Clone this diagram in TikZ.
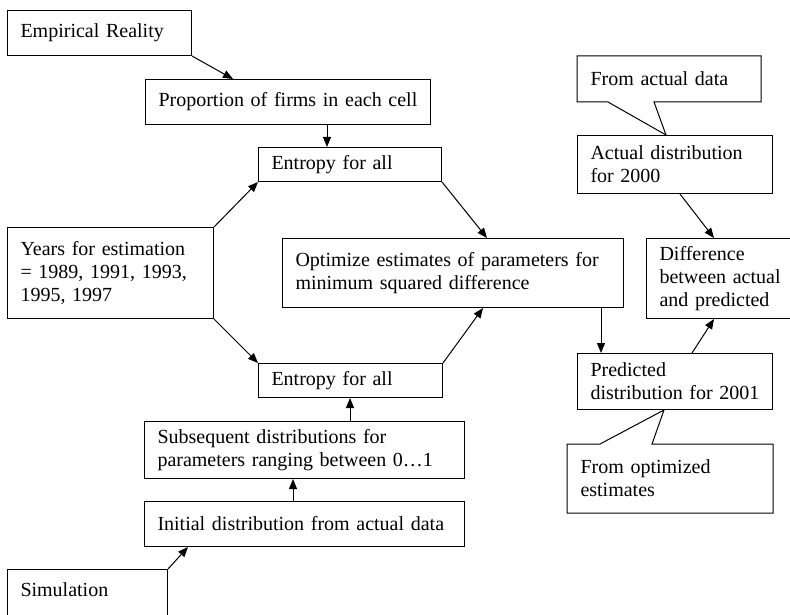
\documentclass[tikz,border=0pt]{standalone}
\usepackage{fontspec}
\setmainfont{Liberation Serif}
\usepackage{tikz}
\usetikzlibrary{positioning}
\usetikzlibrary{calc}
\usetikzlibrary{arrows.meta}

\tikzset{
	box/.style={draw, anchor=north west, align=left, inner xsep=6.5pt, inner ysep=0pt, font=\fontsize{10}{11.5}\selectfont},
	note/.style={box, draw=none},
}

\begin{document}
\begin{tikzpicture}[x=0.5pt, y=-0.5pt, line width=0.5pt, >={Triangle[length=5pt,width=4pt]}]
				\useasboundingbox (0, 0) rectangle (790, 614);
				\clip (0, 0) rectangle (790, 614);
				
				\node[box, text width=79pt, minimum height=22.5pt] (emp) at (7, 10) {Empirical Reality};
				\node[box, text width=129.5pt, minimum height=22.5pt] (prop) at (145, 79) {Proportion of firms in each cell};
				\node[box, text width=78.5pt, minimum height=17pt] (enttop) at (258, 147) {Entropy for all};
				\node[box, text width=90pt, minimum height=45.5pt] (years) at (7, 227) {Years for estimation\\= 1989, 1991, 1993,\\1995, 1997};
				\node[box, text width=157.5pt, minimum height=34.5pt] (opt) at (282, 238) {Optimize estimates of parameters for\\minimum squared difference};
				\node[box, text width=79pt, minimum height=17pt] (entbot) at (258, 363) {Entropy for all};
				\node[box, text width=147pt, minimum height=28.5pt] (subs) at (144, 421) {Subsequent distributions for\\parameters ranging between 0…1};
				\node[box, text width=147pt, minimum height=22.5pt] (init) at (144, 501) {Initial distribution from actual data};
				\node[box, text width=67pt, inner ysep=6.5pt, text height=7pt, text depth=30pt] (sim) at (7, 569) {Simulation};
				
				\node[note, text width=78.5pt, minimum height=22.5pt] (fad) at (577, 56) {From actual data};
				\node[box, text width=84.5pt, minimum height=29pt] (act) at (577, 135) {Actual distribution\\for 2000};
				\node[box, text width=67pt, minimum height=40pt] (diff) at (646, 238) {Difference\\between actual\\and predicted};
				\node[box, text width=84.5pt, minimum height=28pt] (pred) at (577, 353) {Predicted\\distribution for 2001};
				\node[note, text width=89.5pt, minimum height=34pt] (foe) at (567, 444) {From optimized\\estimates};
				
				\draw (fad.south west) -- (fad.north west) -- (fad.north east) -- (fad.south east) -- ($(fad.south west)+(77,0)$) -- ($(act.north west)+(89,0)$) -- ($(fad.south west)+(31,0)$) -- cycle;
				\draw (foe.north west) -- ($(foe.north west)+(33,0)$) -- ($(pred.south west)+(87,0)$) -- ($(foe.north west)+(85,0)$) -- (foe.north east) -- (foe.south east) -- (foe.south west) -- cycle;
				
				\draw[->] (emp.south east) to ($(prop.north west)+(88,0)$);
				\draw[->] ($(prop.south west)+(182,0)$) to ($(enttop.north west)+(69,0)$);
				\draw[->] (years.north east) to (enttop.south west);
				\draw[->] (years.south east) to (entbot.north west);
				\draw[->] (enttop.south east) to ($(opt.north west)+(205,0)$);
				\draw[->] (entbot.north east) to ($(opt.south west)+(201,0)$);
				\draw[->] ($(opt.south west)+(319,0)$) to ($(pred.north west)+(24,0)$);
				\draw[->] ($(act.south west)+(103,0)$) to ($(diff.north west)+(68,0)$);
				\draw[->] ($(pred.north west)+(115,0)$) to ($(diff.south west)+(68,0)$);
				\draw[->] ($(init.north west)+(149,0)$) to ($(subs.south west)+(149,0)$);
				\draw[->] ($(subs.north west)+(206,0)$) to ($(entbot.south west)+(92,0)$);
				\draw[->] (sim.north east) to ($(init.south west)+(44,0)$);
				
			\end{tikzpicture}
\end{document}
